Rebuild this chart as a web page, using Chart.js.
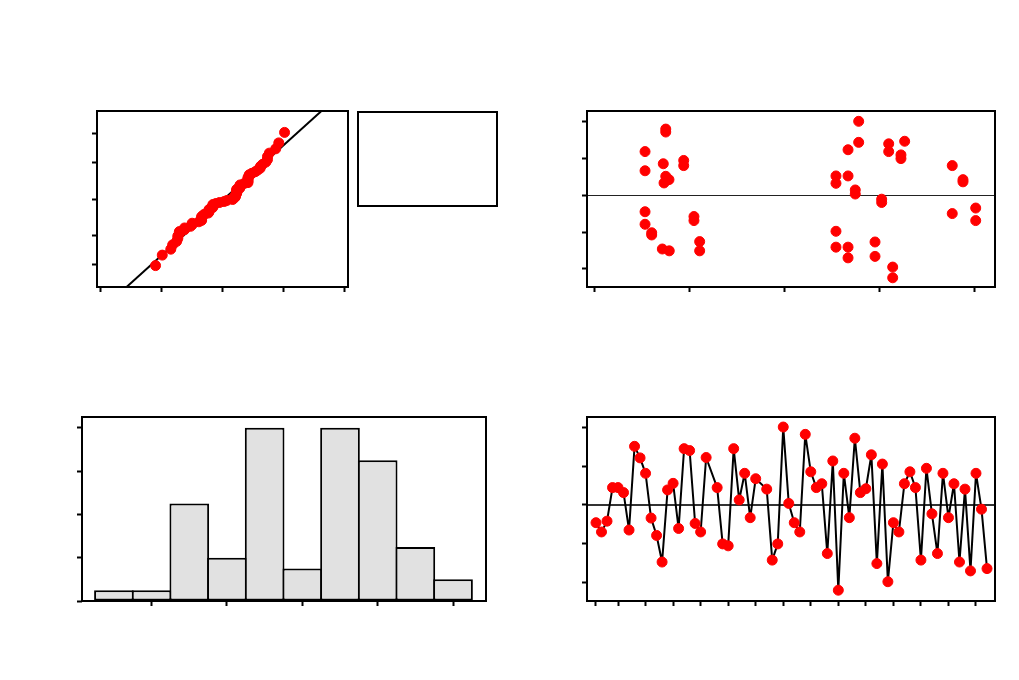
<!DOCTYPE html>
<html>
<head>
<meta charset="utf-8">
<script src="https://cdn.jsdelivr.net/npm/chart.js@4"></script>
<style>
    body { margin: 0; background: #fff; }
    #page { position: relative; width: 1019px; height: 680px; overflow: hidden; }
    canvas { position: absolute; }
    #statBox { position: absolute; left: 357px; top: 111px; width: 141px; height: 96px; box-sizing: border-box; border: 2px solid #000; }
</style>
</head>
<body>
<div id="page">
    <canvas id="normChart" width="509" height="340" style="left:0;top:0"></canvas>
    <canvas id="fitsChart" width="510" height="340" style="left:509px;top:0"></canvas>
    <canvas id="histChart" width="509" height="340" style="left:0;top:340px"></canvas>
    <canvas id="orderChart" width="510" height="340" style="left:509px;top:340px"></canvas>
    <div id="statBox"></div>
</div>
<script>
// residuals in observation order (22 and 31 are missing)
const residOrder = [-0.46, -0.70, -0.42, 0.45, 0.45, 0.32, -0.65, 1.52, 1.22, 0.82,
    -0.34, -0.79, -1.48, 0.39, 0.56, -0.61, 1.46, 1.41, -0.48, -0.70,
    1.23, null, 0.45, -1.01, -1.06, 1.46, 0.13, 0.82, -0.33, 0.68,
    null, 0.41, -1.43, -1.01, 2.02, 0.04, -0.46, -0.70, 1.83, 0.86,
    0.45, 0.55, -1.26, 1.14, -2.21, 0.82, -0.33, 1.73, 0.32, 0.42,
    1.30, -1.52, 1.06, -1.99, -0.46, -0.70, 0.55, 0.86, 0.45, -1.43,
    0.95, -0.23, -1.26, 0.82, -0.33, 0.55, -1.48, 0.41, -1.71, 0.82,
    -0.11, -1.65];

// residuals versus fitted values
const fitValues = [0.534, 0.534, 0.752, 0.752, 0.726, 0.752, 0.786, 0.734, 0.941, 0.941,
    0.534, 0.534, 0.604, 0.604, 0.716, 0.789, 1.049, 1.049, 1.109, 1.109,
    2.783, 2.783, 2.671, 3.099, 3.099, 3.267, 3.228, 3.228, 2.544, 2.544,
    2.671, 2.747, 2.747, 3.025, 3.025, 3.768, 3.881, 3.881, 3.768, 4.015,
    4.015, 2.544, 2.544, 2.671, 2.671, 2.955, 2.955, 3.141, 3.141];
const fitResid = [1.18, 0.66, 1.79, 1.71, 0.85, 0.51, 0.42, 0.33, 0.94, 0.80,
    -0.45, -0.79, -1.02, -1.08, -1.46, -1.51, -0.58, -0.69, -1.26, -1.51,
    2.00, 1.43, 1.23, 1.39, 1.18, 1.46, 1.09, 0.99, 0.52, 0.32,
    0.52, 0.14, 0.03, -0.11, -0.20, 0.80, 0.42, 0.36, -0.50, -0.35,
    -0.69, -0.98, -1.41, -1.41, -1.70, -1.27, -1.66, -1.95, -2.24];

// histogram
const histMids = [-2.0, -1.6, -1.2, -0.8, -0.4, 0, 0.4, 0.8, 1.2, 1.6];
const histCounts = [1, 1, 9, 4, 16, 3, 16, 13, 5, 2];

// tick positions (no labels are shown)
const pctTicks = [1, 10, 50, 90, 99];
const normXTicks = [-4, -2, 0, 2, 4];
const residTicks = [-2, -1, 0, 1, 2];
const fitTicks = [0, 1, 2, 3, 4];
const orderTicks = [1, 5, 10, 15, 20, 25, 30, 35, 40, 45, 50, 55, 60, 65, 70];
const histXTicks = [-1.6, -0.8, 0, 0.8, 1.6];
const histYTicks = [0, 4, 8, 12, 16];

const RED = '#ff0000';
const TICK = 5;

// approx inverse normal cdf
const probit = (p) => 4.91 * (Math.pow(p, 0.14) - Math.pow(1 - p, 0.14));

// padding so the plot box lands at box = [left, top, right, bottom] in the page
const padFor = (cv, box) => ({
    left: box[0] - cv[0] - TICK,
    top: box[1] - cv[1],
    right: cv[0] + cv[2] - box[2],
    bottom: cv[1] + cv[3] - box[3] - TICK
});

const axis = (min, max, ticks) => ({
    type: 'linear',
    min: min,
    max: max,
    offset: false,
    afterBuildTicks: (scale) => { scale.ticks = ticks.map(v => ({ value: v })); },
    ticks: { display: false },
    grid: { offset: false, drawOnChartArea: false, drawTicks: true, tickLength: TICK, tickWidth: 2, tickColor: '#000' },
    border: { display: false }
});

const framePlugin = {
    id: 'frame',
    afterDraw(chart) {
        const { ctx, chartArea: a } = chart;
        ctx.save();
        ctx.strokeStyle = '#000';
        ctx.lineWidth = 2;
        ctx.strokeRect(a.left, a.top, a.right - a.left, a.bottom - a.top);
        ctx.restore();
    }
};

const zeroLine = {
    id: 'zeroLine',
    beforeDatasetsDraw(chart, args, opts) {
        if (!opts.width) return;
        const { ctx, chartArea: a } = chart;
        const y = Math.round(chart.scales.y.getPixelForValue(0)) + (opts.width % 2 ? 0.5 : 0);
        ctx.save();
        ctx.strokeStyle = opts.color;
        ctx.lineWidth = opts.width;
        ctx.beginPath();
        ctx.moveTo(a.left, y);
        ctx.lineTo(a.right, y);
        ctx.stroke();
        ctx.restore();
    }
};

Chart.register(framePlugin, zeroLine);

const baseOptions = (cv, box) => ({
    responsive: false,
    animation: false,
    layout: { padding: padFor(cv, box) },
    plugins: { legend: { display: false }, tooltip: { enabled: false }, zeroLine: { width: 0 } }
});

const dots = {
    pointRadius: 5,
    pointBorderWidth: 1,
    pointBackgroundColor: RED,
    pointBorderColor: RED
};

// normal probability plot
const sorted = residOrder.filter(v => v !== null).sort((a, b) => a - b);
const n = sorted.length;
const mean = sorted.reduce((s, v) => s + v, 0) / n;
const sd = Math.sqrt(sorted.reduce((s, v) => s + (v - mean) * (v - mean), 0) / (n - 1));
const normPoints = sorted.map((v, i) => ({ x: v, y: probit((i + 1 - 0.375) / (n + 0.25)) }));
const normLine = [-4.2, 4.2].map(x => ({ x: x, y: (x - mean) / sd }));

const opt1 = baseOptions([0, 0, 509, 340], [97, 111, 348, 287]);
opt1.scales = {
    x: axis(-4.13, 4.10, normXTicks),
    y: axis(-3.13, 3.13, pctTicks.map(p => probit(p / 100)))
};
new Chart(document.querySelector('#normChart'), {
    type: 'scatter',
    data: {
        datasets: [Object.assign({ data: normPoints }, dots), {
            type: 'line',
            data: normLine,
            borderColor: '#000',
            borderWidth: 2,
            pointRadius: 0
        }]
    },
    options: opt1
});

// residuals versus fits
const opt2 = baseOptions([509, 0, 510, 340], [587, 111, 995, 287]);
opt2.plugins.zeroLine = { color: '#222', width: 1 };
opt2.scales = {
    x: axis(-0.077, 4.218, fitTicks),
    y: axis(-2.49, 2.28, residTicks)
};
new Chart(document.querySelector('#fitsChart'), {
    type: 'scatter',
    data: {
        datasets: [Object.assign({ data: fitValues.map((x, i) => ({ x: x, y: fitResid[i] })) }, dots)]
    },
    options: opt2
});

// histogram of residuals
const opt3 = baseOptions([0, 340, 509, 340], [82, 417, 486, 601]);
opt3.scales = {
    x: axis(-2.339, 1.950, histXTicks),
    y: axis(0, 17.0, histYTicks)
};
new Chart(document.querySelector('#histChart'), {
    type: 'bar',
    data: {
        datasets: [{
            data: histMids.map((x, i) => ({ x: x, y: histCounts[i] })),
            backgroundColor: '#e1e1e1',
            borderColor: '#000',
            borderWidth: 2,
            borderSkipped: false,
            categoryPercentage: 1,
            barPercentage: 1.053 // bars overlap by the border so edges stay 2px
        }]
    },
    options: opt3
});

// residuals versus order
const opt4 = baseOptions([509, 340, 510, 340], [587, 417, 995, 601]);
opt4.plugins.zeroLine = { color: '#333', width: 2 };
opt4.scales = {
    x: axis(-0.634, 73.45, orderTicks),
    y: axis(-2.49, 2.28, residTicks)
};
new Chart(document.querySelector('#orderChart'), {
    type: 'line',
    data: {
        datasets: [Object.assign({
            data: residOrder.map((v, i) => ({ x: i + 1, y: v })),
            spanGaps: true,
            tension: 0,
            borderColor: '#000',
            borderWidth: 2,
            borderJoinStyle: 'round'
        }, dots)]
    },
    options: opt4
});
</script>
</body>
</html>
